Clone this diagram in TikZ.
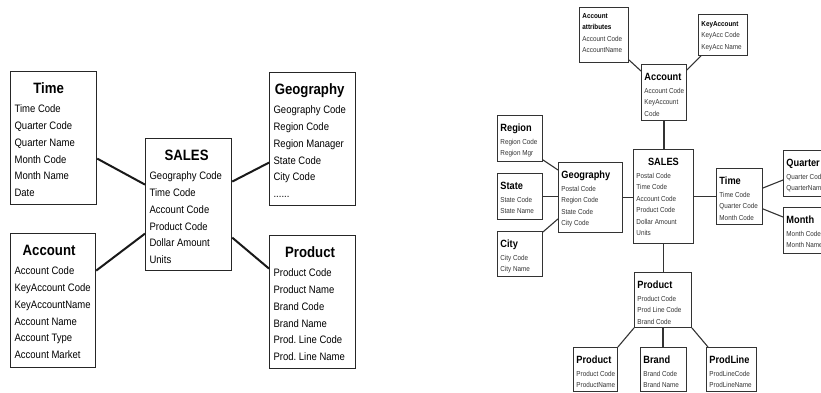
\documentclass[tikz,border=0pt]{standalone}
\usepackage{fontspec}
\setmainfont{Liberation Sans}
\newfontfamily\nsans[FakeStretch=0.88]{Liberation Sans}
\usetikzlibrary{calc}
\frenchspacing
\newcommand{\ltitle}{\nsans\bfseries\fontsize{15pt}{18pt}\selectfont}
\newcommand{\lfield}{\nsans\fontsize{10.8pt}{16.8pt}\selectfont}
\newcommand{\rtitle}{\nsans\bfseries\fontsize{10.5pt}{12pt}\selectfont}
\newcommand{\rfield}{\nsans\fontsize{7.2pt}{11.5pt}\selectfont\color{black!80}}
\newcommand{\rb}[1]{{\color{black}\bfseries #1}}
\newcommand{\LEnt}[4]{\parbox[t][#2pt][t]{#1pt}{%
 {\ltitle\centering\rule{0pt}{22pt}#3\par}\vspace{2.2pt}%
 {\lfield\raggedright\leftskip=4pt\relax #4\par}}}
\newcommand{\REnt}[4]{\parbox[t][#2pt][t]{#1pt}{%
 {\rtitle\raggedright\leftskip=3pt\relax\rule{0pt}{16pt}#3\par}\vspace{1.5pt}%
 {\rfield\raggedright\leftskip=3pt\relax #4\par}}}
\newcommand{\RSmall}[4]{\parbox[t][#2pt][t]{#1pt}{%
 {\rfield\raggedright\leftskip=3pt\relax\rule{0pt}{#3pt}#4\par}}}
\tikzset{
  entL/.style={draw=black!85, line width=1.2pt, inner sep=0pt, anchor=north west},
  entR/.style={draw=black!80, line width=0.9pt, inner sep=0pt, anchor=north west},
  linkL/.style={line width=2pt, black!90},
  linkR/.style={line width=1.1pt, black!80},
}
\begin{document}
\begin{tikzpicture}[x=1pt, y=-1pt]
\useasboundingbox (0,0) rectangle (821,392);
\clip (0,0) rectangle (821,392);
% ---------- left diagram ----------
\node[entL] (time) at (10,71) {\LEnt{86}{133}{Time\hspace*{10pt}}{Time Code\\Quarter Code\\Quarter Name\\Month Code\\Month Name\\Date}};
\node[entL] (geo) at (269,72) {\LEnt{86}{133}{Geography\hspace*{6pt}}{Geography Code\\Region Code\\Region Manager\\State Code\\City Code\\......}};
\node[entL] (sales) at (145,138) {\LEnt{86}{132}{SALES\hspace*{4pt}}{Geography Code\\Time Code\\Account Code\\Product Code\\Dollar Amount\\Units}};
\node[entL] (acc) at (10,233) {\LEnt{85}{134}{Account\hspace*{8pt}}{Account Code\\KeyAccount Code\\KeyAccountName\\Account Name\\Account Type\\Account Market}};
\node[entL] (prod) at (269,235) {\LEnt{86}{133}{Product\hspace*{5pt}}{Product Code\\Product Name\\Brand Code\\Brand Name\\Prod. Line Code\\Prod. Line Name}};
\draw[linkL] ([yshift=-20.5pt]time.east) -- ([yshift=20pt]sales.west);
\draw[linkL] ([yshift=-23.5pt]geo.west) -- ([yshift=23pt]sales.east);
\draw[linkL] ([yshift=30pt]acc.east) -- ([yshift=-29pt]sales.west);
\draw[linkL] ([yshift=33.5pt]prod.west) -- ([yshift=-33pt]sales.east);
% ---------- right diagram ----------
\node[entR] (accattr) at (579,7) {\RSmall{49}{55}{11}{\rb{Account}\\\rb{attributes}\\Account Code\\AccountName}};
\node[entR] (keyacc) at (698,14) {\RSmall{49}{41}{12}{\rb{KeyAccount}\\KeyAcc Code\\KeyAcc Name}};
\node[entR] (acc2) at (641,64) {\REnt{45}{56}{Account}{Account Code\\KeyAccount\\Code}};
\node[entR] (region) at (497,115) {\REnt{45}{46}{Region}{Region Code\\Region Mgr}};
\node[entR] (geo2) at (558,162) {\REnt{64}{70}{Geography}{Postal Code\\Region Code\\State Code\\City Code}};
\node[entR] (state) at (497,173) {\REnt{45}{46}{State}{State Code\\State Name}};
\node[entR] (city) at (497,231) {\REnt{45}{45}{City}{City Code\\City Name}};
\node[entR] (sales2) at (633,149) {\REnt{60}{94}{\centering SALES}{Postal Code\\Time Code\\Account Code\\Product Code\\Dollar Amount\\Units}};
\node[entR] (time2) at (716,168) {\REnt{46}{56}{Time}{Time Code\\Quarter Code\\Month Code}};
\node[entR] (quarter) at (783,150) {\REnt{52}{46}{Quarter}{Quarter Code\\QuarterName}};
\node[entR] (month) at (783,207) {\REnt{52}{46}{Month}{Month Code\\Month Name}};
\node[entR] (prod2) at (634,272) {\REnt{57}{55}{Product}{Product Code\\Prod Line Code\\Brand Code}};
\node[entR] (prodA) at (573,347) {\REnt{44}{44}{Product}{Product Code\\ProductName}};
\node[entR] (brand) at (640,347) {\REnt{46}{44}{Brand}{Brand Code\\Brand Name}};
\node[entR] (prodline) at (706,347) {\REnt{50}{44}{ProdLine}{ProdLineCode\\ProdLineName}};
\draw[linkR] ([yshift=3pt]accattr.south east) -- ([yshift=-7pt]acc2.north west);
\draw[linkR] ([xshift=3pt]keyacc.south west) -- ([yshift=-6pt]acc2.north east);
\draw[linkR] (acc2.south) -- (acc2.south |- sales2.north);
\draw[linkR] ([yshift=2pt]region.south east) -- ([yshift=-8pt]geo2.north west);
\draw[linkR] (state.east) -- (state.east -| geo2.west);
\draw[linkR] ([yshift=-1pt]city.north east) -- ([yshift=14pt]geo2.south west);
\draw[linkR] (geo2.east) -- (geo2.east -| sales2.west);
\draw[linkR] (sales2.east) -- (sales2.east -| time2.west);
\draw[linkR] ([yshift=-20pt]time2.north east) -- ([yshift=-30pt]quarter.north west);
\draw[linkR] ([yshift=16pt]time2.south east) -- ([yshift=-10pt]month.north west);
\draw[linkR] (sales2.south) -- (sales2.south |- prod2.north);
\draw[linkR] (prod2.south west) -- (prodA.north east);
\draw[linkR] (prod2.south) -- (prod2.south |- brand.north);
\draw[linkR] (prod2.south east) -- ([xshift=2pt]prodline.north west);
\end{tikzpicture}
\end{document}
